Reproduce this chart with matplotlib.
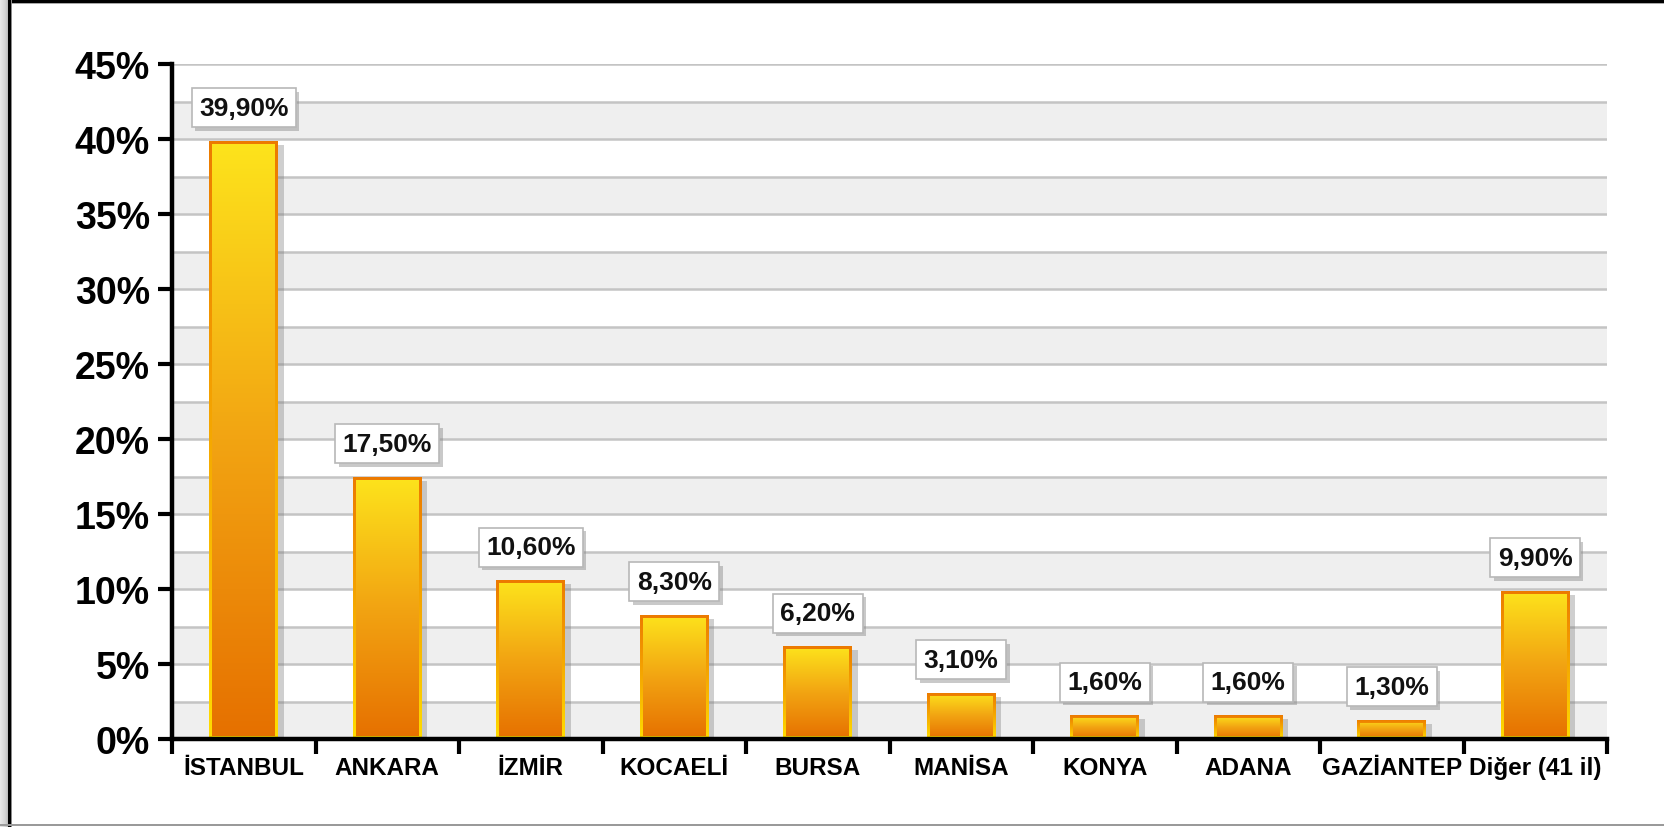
import numpy as np
import matplotlib
matplotlib.use('Agg')
import matplotlib.pyplot as plt
from matplotlib.colors import LinearSegmentedColormap
from matplotlib.patches import Rectangle
import matplotlib.patheffects as pe

plt.rcParams['font.family'] = ['Liberation Sans', 'DejaVu Sans']

categories = ["İSTANBUL", "ANKARA", "İZMİR", "KOCAELİ", "BURSA", "MANİSA",
              "KONYA", "ADANA", "GAZİANTEP", "Diğer (41 il)"]
values = [39.9, 17.5, 10.6, 8.3, 6.2, 3.1, 1.6, 1.6, 1.3, 9.9]
value_labels = ["39,90%", "17,50%", "10,60%", "8,30%", "6,20%", "3,10%",
                "1,60%", "1,60%", "1,30%", "9,90%"]
yticks = [0, 5, 10, 15, 20, 25, 30, 35, 40, 45]
ytick_labels = ["0%", "5%", "10%", "15%", "20%", "25%", "30%", "35%", "40%", "45%"]
band_step = 2.5

W, H = 1664, 828
fig = plt.figure(figsize=(W / 100, H / 100), dpi=100)
fig.patch.set_facecolor('white')
L, R, T, B = 172, 1607, 65, 740
ax = fig.add_axes([L / W, 1 - B / H, (R - L) / W, (B - T) / H])
ax.set_facecolor('white')

n = len(categories)
ax.set_xlim(-0.5, n - 0.5)
ax.set_ylim(yticks[0], yticks[-1])

# alternating bands and grid lines
levels = np.arange(yticks[0], yticks[-1] + 1e-9, band_step)
for k, y0 in enumerate(levels[:-1]):
    if k % 2 == 0:
        ax.axhspan(y0, y0 + band_step, color='#efefef', zorder=0, lw=0)
for y in levels[1:]:
    ax.axhline(y, color='#c4c4c4', lw=1.8, zorder=0.5)

x = np.arange(n)
bars = ax.bar(x, values, width=0.48, color='#f0a010', edgecolor='none', zorder=2.5)

inner_cmap = LinearSegmentedColormap.from_list('inner', ['#e67000', '#f2a412', '#fde41c'])
edge_cmap = LinearSegmentedColormap.from_list('edge', ['#ffdc00', '#f5a800', '#ec7a00'])
grad = np.linspace(0, 1, 256).reshape(-1, 1)

px_x = (R - L) / (n)          # pixels per data unit x
px_y = (B - T) / (yticks[-1] - yticks[0])  # pixels per data unit y
ex, ey = 3.0 / px_x, 3.0 / px_y

for r in bars:
    r.set_path_effects([pe.SimplePatchShadow(offset=(4, -3), shadow_rgbFace='#777777', alpha=0.35),
                        pe.Normal()])
    x0, y0, w, h = r.get_x(), r.get_y(), r.get_width(), r.get_height()
    im = ax.imshow(grad, extent=(x0, x0 + w, y0, y0 + h), origin='lower',
                   cmap=edge_cmap, aspect='auto', zorder=3, interpolation='bilinear')
    im.set_clip_path(r)
    inner = Rectangle((x0 + ex, y0 + ey), w - 2 * ex, h - 2 * ey, transform=ax.transData,
                      fc='none', ec='none')
    ax.add_patch(inner)
    im2 = ax.imshow(grad, extent=(x0, x0 + w, y0, y0 + h), origin='lower',
                    cmap=inner_cmap, aspect='auto', zorder=3.1, interpolation='bilinear')
    im2.set_clip_path(inner)

ax.set_xlim(-0.5, n - 0.5)
ax.set_ylim(yticks[0], yticks[-1])

# value labels with shadowed boxes
for xi, v, lbl in zip(x, values, value_labels):
    ann = ax.annotate(lbl, xy=(xi, v), xytext=(0, 15), textcoords='offset points',
                      ha='center', va='bottom', fontsize=19, fontweight='bold', color='#111111',
                      bbox=dict(boxstyle='square,pad=0.28', fc='white', ec='#b8b8b8', lw=1.2),
                      zorder=6)
    ann.get_bbox_patch().set_path_effects(
        [pe.SimplePatchShadow(offset=(2.5, -2.5), shadow_rgbFace='#888888', alpha=0.45),
         pe.Normal()])

# axes styling
for s in ['top', 'right']:
    ax.spines[s].set_visible(False)
for s in ['left', 'bottom']:
    ax.spines[s].set_linewidth(3.2)
    ax.spines[s].set_color('black')
    ax.spines[s].set_zorder(7)

ax.set_yticks(yticks)
ax.set_yticklabels(ytick_labels, fontsize=27, fontweight='bold')
ax.tick_params(axis='y', length=10, width=3, pad=6, direction='out')

ax.set_xticks(np.arange(-0.5, n, 1.0))
ax.set_xticklabels([])
ax.tick_params(axis='x', which='major', length=11, width=3, direction='out')
ax.set_xticks(x, minor=True)
ax.set_xticklabels(categories, minor=True, fontsize=17.5, fontweight='bold')
ax.tick_params(axis='x', which='minor', length=0, pad=12)

# outer frame
def fr(x0, y0, w, h, c):
    fig.add_artist(Rectangle((x0 / W, 1 - (y0 + h) / H), w / W, h / H,
                             transform=fig.transFigure, fc=c, ec='none', zorder=10))

fr(0, 0, W, 3.5, '#000000')
fr(0, 3.5, W, 1.5, '#a8a8a8')
for i, c in enumerate(['#e6e6e6', '#e2e2e2', '#dedede', '#dadada', '#d6d6d6', '#d0d0d0', '#c8c8c8', '#bcbcbc']):
    fr(i, 0, 1, H, c)
fr(8, 0, 2.5, H, '#000000')
fr(10.5, 0, 1.5, H, '#8a8a8a')
fr(0, H - 3, W, 1.5, '#9a9a9a')

fig.savefig('out.png', dpi=100, facecolor='white')
